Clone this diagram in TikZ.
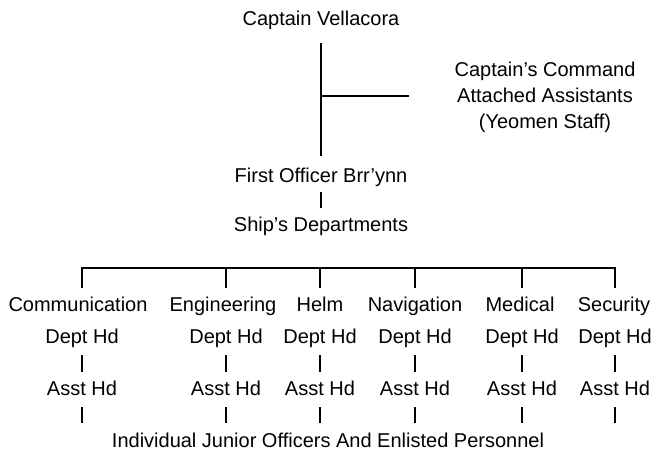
\documentclass[tikz,border=0pt]{standalone}
\usepackage{fontspec}
\setmainfont{Liberation Sans}
\begin{document}
\begin{tikzpicture}[
  txt/.style={font=\fontsize{20}{26}\selectfont, inner sep=0pt,
    text height=15pt, text depth=5pt, anchor=base},
  link/.style={line width=1.3pt, line cap=rect}]
  \useasboundingbox (0pt,0pt) rectangle (653pt,-450pt);

  \node[txt] (capt)  at (321pt, -25pt) {Captain Vellacora};
  \node[txt] (fo)    at (321pt,-182pt) {First Officer Brr'ynn};
  \node[txt] (ships) at (321pt,-231pt) {Ship's Departments};
  \node[font=\fontsize{20}{26}\selectfont, inner sep=0pt, align=center]
    (yeo) at (545pt,-97pt) {Captain's Command\\Attached Assistants\\(Yeomen Staff)};

  \draw[link, shorten <=13pt, shorten >=11pt] (capt) -- (fo);
  \coordinate (fork) at (321pt,-96pt);
  \draw[link, shorten >=46pt] (fork) -- (yeo.west |- fork);
  \draw[link, shorten <=5pt, shorten >=8pt] (fo) -- (ships);

  \coordinate (bar) at (321pt,-268pt);
  \node[txt] (jr) at (328pt,-447pt) {Individual Junior Officers And Enlisted Personnel};

  \foreach \i/\x/\nx/\dept in {1/82/78/Communication, 2/226/223/Engineering,
      3/320/320/Helm, 4/415/415/Navigation, 5/522/520/Medical, 6/615/614/Security}{
    \node[txt] (dept\i) at (\nx pt,-311pt) {\dept};
    \node[txt] (dh\i)   at (\x pt,-343pt) {Dept Hd};
    \node[txt] (ah\i)   at (\x pt,-395pt) {Asst Hd};
    \draw[link, shorten >=8pt] (bar -| dh\i) -- (dh\i |- dept\i.north);
    \draw[link, shorten <=7pt, shorten >=8pt] (dh\i) -- (ah\i);
    \draw[link, shorten <=7pt, shorten >=9pt] (ah\i) -- (ah\i |- jr.north);
  }
  \draw[link] (bar -| dh1) -- (bar -| dh6);

\end{tikzpicture}
\end{document}
